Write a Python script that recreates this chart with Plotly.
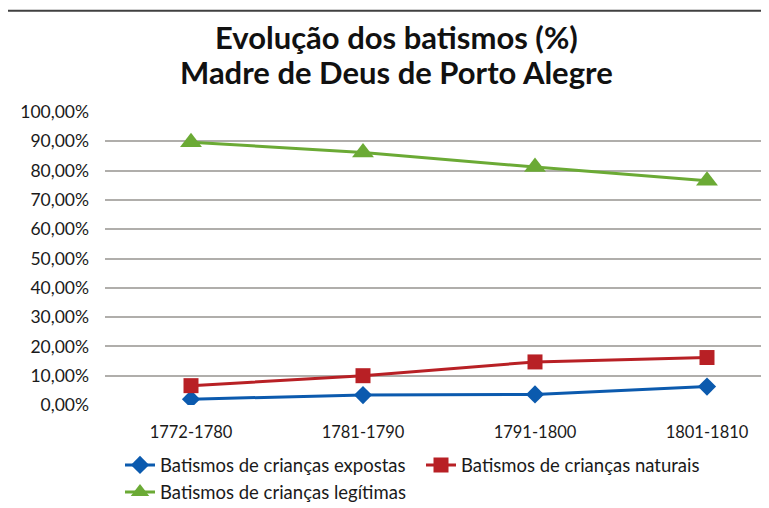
import plotly.graph_objects as go

periods = ["1772-1780", "1781-1790", "1791-1800", "1801-1810"]
expostas = [2.0, 3.4, 3.6, 6.3]
naturais = [6.6, 10.0, 14.7, 16.2]
legitimas = [89.7, 86.2, 81.2, 76.5]

y_ticks = list(range(0, 101, 10))
y_labels = [f"{v},00%" for v in y_ticks]

title_lines = ["Evolução dos batismos (%)", "Madre de Deus de Porto Alegre"]

FONT = "Lato, 'Open Sans', sans-serif"

# the page body has an 8px margin, so screen pixel p sits at figure pixel p - OFF
OFF = 8
W, H = 769, 508
L = 105 - OFF
T = 112 - OFF
B = H - (405.5 - OFF)
R = 0
pw = W - L - R
ph = H - T - B


def px_x(p):
  # screen x -> paper coordinate
  return (p - OFF - L) / pw


def px_y(p):
  # screen y -> paper coordinate
  return (H - B - (p - OFF)) / ph


fig = go.Figure()

series = [
  ("Batismos de crianças expostas", expostas, "#0B5AAE", "diamond", 14),
  ("Batismos de crianças naturais", naturais, "#B82025", "square", 15),
  ("Batismos de crianças legítimas", legitimas, "#6BAA35", "triangle-up", 19),
]

for name, vals, color, symbol, size in series:
  fig.add_trace(
    go.Scatter(
      x=periods,
      y=vals,
      mode="lines+markers",
      name=name,
      line=dict(color=color, width=3),
      marker=dict(symbol=symbol, size=size, color=color),
    )
  )

# chart frame (left and top edges visible in the crop)
fig.add_shape(
  type="line", xref="paper", yref="paper",
  x0=px_x(6.5), x1=px_x(6.5), y0=px_y(10.5), y1=px_y(530),
  line=dict(color="#404040", width=2),
)
fig.add_shape(
  type="line", xref="paper", yref="paper",
  x0=px_x(6.5), x1=px_x(790), y0=px_y(10.5), y1=px_y(10.5),
  line=dict(color="#404040", width=2),
)

# two-line bold title
for text, yc in zip(title_lines, [37, 72]):
  fig.add_annotation(
    text=f"<b>{text}</b>",
    xref="paper", yref="paper",
    x=px_x(396), y=px_y(yc),
    xanchor="center", yanchor="middle",
    showarrow=False,
    font=dict(family=FONT, size=31, color="#111111"),
  )

fig.update_layout(
  width=W,
  height=H,
  margin=dict(l=L, r=R, t=T, b=B, autoexpand=False),
  paper_bgcolor="white",
  plot_bgcolor="white",
  font=dict(family=FONT, color="#1a1a1a", size=17),
  legend=dict(
    orientation="h",
    x=px_x(120),
    xanchor="left",
    y=px_y(447),
    yanchor="top",
    font=dict(family=FONT, size=18.5, color="#1a1a1a"),
    itemwidth=30,
    entrywidth=256,
    entrywidthmode="pixels",
    tracegroupgap=0,
  ),
  showlegend=True,
)

fig.update_xaxes(
  range=[-0.5, -0.5 + pw / 172.0],
  showgrid=False,
  showline=False,
  ticks="",
  ticklabelstandoff=15,
  tickfont=dict(family=FONT, size=16.5),
)
fig.update_yaxes(
  range=[0, 100],
  tickvals=y_ticks,
  ticktext=y_labels,
  showgrid=True,
  gridcolor="#B0AEAB",
  gridwidth=1.5,
  zeroline=False,
  showline=False,
  ticks="",
  ticklabelstandoff=15,
  tickfont=dict(family=FONT, size=17.5),
)

fig.write_html("out.html")
